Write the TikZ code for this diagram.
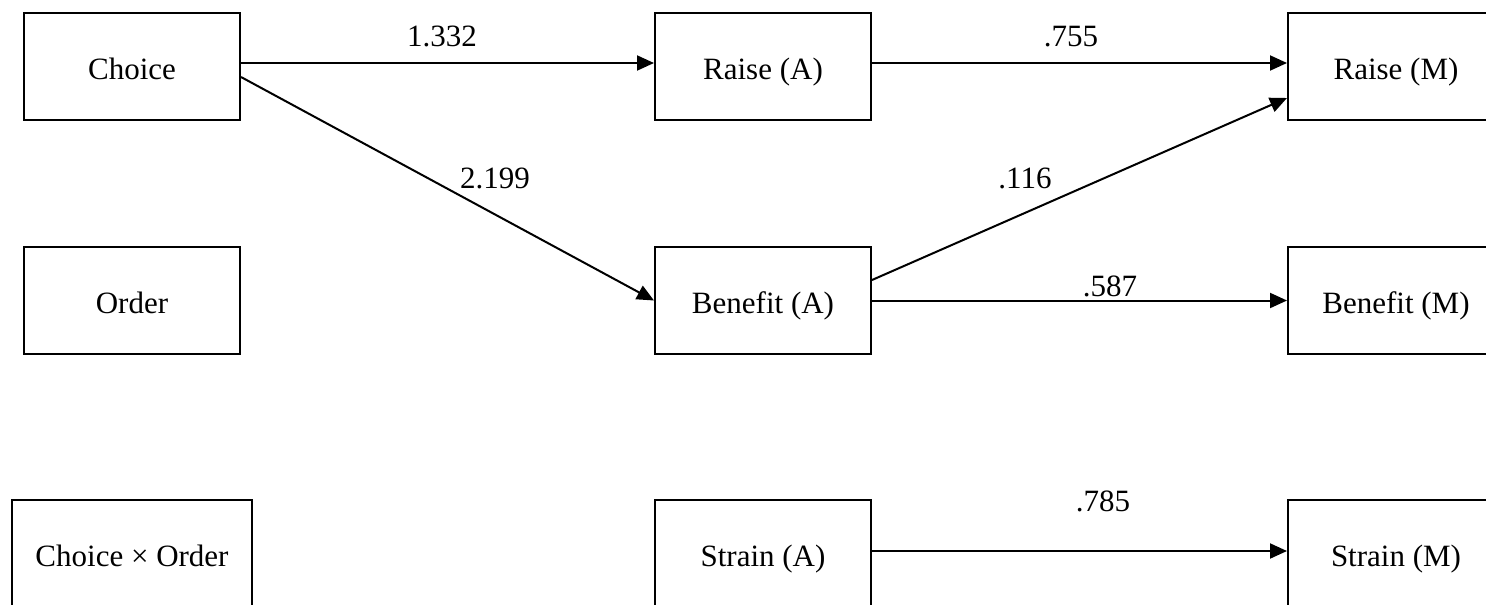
\documentclass[tikz,border=0pt]{standalone}
\usepackage{fontspec}
\setmainfont{Liberation Serif}
\usetikzlibrary{arrows.meta,calc}
\begin{document}
\begin{tikzpicture}[x=1pt,y=-1pt,
  box/.style={draw,line width=2pt,minimum width=216pt,minimum height=107pt,inner sep=0pt,
    text height=25pt,text depth=0pt,font=\fontsize{31}{37}\selectfont},
  wbox/.style={box,minimum width=240pt},
  lab/.style={anchor=base,inner sep=0pt,font=\fontsize{31}{37}\selectfont},
  arr/.style={line width=2pt,-{Triangle[length=17pt,width=15pt]}}]
\useasboundingbox (0,0) rectangle (1486,605);
\clip (0,0) rectangle (1486,605);
\node[box] (Choice) at (132,66.5) {Choice};
\node[box] (Order) at (132,300.5) {Order};
\node[wbox] (CxO) at (132,553.5) {Choice × Order};
\node[box] (RaiseA) at (763,66.5) {Raise (A)};
\node[box] (BenA) at (763,300.5) {Benefit (A)};
\node[box] (StrA) at (763,553.5) {Strain (A)};
\node[box] (RaiseM) at (1396,66.5) {Raise (M)};
\node[box] (BenM) at (1396,300.5) {Benefit (M)};
\node[box] (StrM) at (1396,553.5) {Strain (M)};
\draw[arr] ($(Choice.east)+(0,-3.5)$) -- ($(RaiseA.west)+(0,-3.5)$);
\draw[arr] ($(Choice.east)+(0,10.5)$) -- (BenA.west);
\draw[arr] ($(RaiseA.east)+(0,-3.5)$) -- ($(RaiseM.west)+(0,-3.5)$);
\draw[arr] ($(BenA.east)+(0,-20.5)$) -- ($(RaiseM.west)+(0,31.5)$);
\draw[arr] (BenA.east) -- (BenM.west);
\draw[arr] ($(StrA.east)+(0,-2.5)$) -- ($(StrM.west)+(0,-2.5)$);
\node[lab] (l1) at (442,46) {1.332};
\node[lab] (l2) at (1071,46) {.755};
\node[lab] (l3) at (495,188) {2.199};
\node[lab] (l4) at (1025,188) {.116};
\node[lab] (l5) at (1110,296) {.587};
\node[lab] (l6) at (1103,511) {.785};
\end{tikzpicture}
\end{document}
